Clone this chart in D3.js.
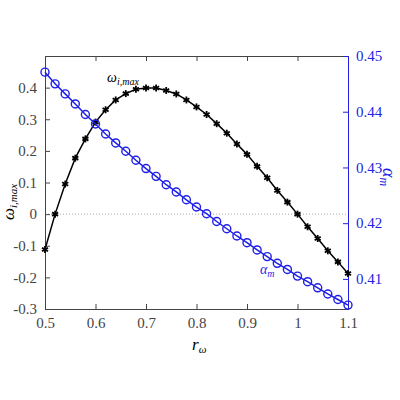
<!DOCTYPE html><html><head><meta charset="utf-8"><script src="https://cdn.jsdelivr.net/npm/d3@7"></script>
<style>body{margin:0;background:#fff}svg text{font-family:"Liberation Serif",serif !important}</style></head><body><svg id="c" width="400" height="400"></svg><script>
const rw=[0.5,0.52,0.54,0.56,0.58,0.6,0.62,0.64,0.66,0.68,0.7,0.72,0.74,0.76,0.78,0.8,0.82,0.84,0.86,0.88,0.9,0.92,0.94,0.96,0.98,1.0,1.02,1.04,1.06,1.08,1.1];
const omega=[-0.112,0,0.095,0.177,0.238,0.291,0.330,0.361,0.381,0.395,0.399,0.399,0.391,0.380,0.361,0.339,0.315,0.286,0.256,0.222,0.189,0.151,0.115,0.075,0.038,0,-0.040,-0.077,-0.116,-0.151,-0.188];
const alpha=[0.4471,0.4450,0.4432,0.4414,0.4395,0.4378,0.4360,0.4344,0.4329,0.4313,0.4298,0.4284,0.4269,0.4256,0.4242,0.4229,0.4217,0.4203,0.4190,0.4177,0.4165,0.4152,0.4140,0.4128,0.4117,0.4105,0.4095,0.4084,0.4073,0.4063,0.4053];
const xTicks=[0.5,0.6,0.7,0.8,0.9,1,1.1],yTicks=[-0.3,-0.2,-0.1,0,0.1,0.2,0.3,0.4],y2Ticks=[0.41,0.42,0.43,0.44,0.45];
const L=45,R=348,T=56,B=309,blue="#1f1fe6";
const svg=d3.select("#c");
const x=d3.scaleLinear([0.5,1.1],[L,R]),y=d3.scaleLinear([-0.3,0.5],[B,T]),y2=d3.scaleLinear([0.4046,0.45],[B,T]);
svg.append("line").attr("x1",L).attr("x2",R).attr("y1",y(0)).attr("y2",y(0)).attr("stroke","#aaa").attr("stroke-dasharray","1,2");
function ax(g,col){g.attr("font-family","Liberation Serif");g.selectAll("path").attr("stroke",col);g.selectAll("line").attr("stroke",col);g.selectAll("text").attr("fill",col).style("font-size","15px");}
svg.append("g").attr("transform",`translate(0,${B})`).call(d3.axisBottom(x).tickValues(xTicks).tickSizeInner(-5).tickSizeOuter(0).tickPadding(8).tickFormat(d=>String(d))).call(g=>ax(g,"#444"));
svg.append("g").attr("transform",`translate(0,${T})`).call(d3.axisTop(x).tickValues(xTicks).tickSizeInner(-5).tickSizeOuter(0).tickFormat("")).call(g=>ax(g,"#444"));
svg.append("g").attr("transform",`translate(${L},0)`).call(d3.axisLeft(y).tickValues(yTicks).tickSizeInner(-5).tickSizeOuter(0).tickPadding(8).tickFormat(d=>String(d))).call(g=>ax(g,"#444"));
svg.append("g").attr("transform",`translate(${R},0)`).call(d3.axisRight(y2).tickValues(y2Ticks).tickSizeInner(-5).tickSizeOuter(0).tickPadding(8).tickFormat(d=>String(d))).call(g=>ax(g,blue));
const lw=d3.line().x((d,i)=>x(rw[i])).y(d=>y(d));
svg.append("path").attr("d",lw(omega)).attr("fill","none").attr("stroke","#000").attr("stroke-width",1.5);
omega.forEach((d,i)=>{const g=svg.append("g").attr("transform",`translate(${x(rw[i])},${y(d)})`);
 [0,60,120].forEach(a=>g.append("line").attr("x1",-3.5).attr("x2",3.5).attr("transform",`rotate(${a+90})`).attr("stroke","#000").attr("stroke-width",1.8));});
const la=d3.line().x((d,i)=>x(rw[i])).y(d=>y2(d));
svg.append("path").attr("d",la(alpha)).attr("fill","none").attr("stroke",blue).attr("stroke-width",1.5);
svg.selectAll(".ca").data(alpha).join("circle").attr("cx",(d,i)=>x(rw[i])).attr("cy",d=>y2(d)).attr("r",4).attr("fill","none").attr("stroke",blue).attr("stroke-width",1.4);
svg.append("text").attr("x",107).attr("y",82).style("font-size","14px").style("font-style","italic").html('ω<tspan font-size="10" dy="3">i,max</tspan>');
svg.append("text").attr("x",260).attr("y",274).attr("fill",blue).style("font-size","14px").style("font-style","italic").html('α<tspan font-size="10" dy="3">m</tspan>');
svg.append("text").attr("x",192).attr("y",350).style("font-size","17px").style("font-style","italic").html('r<tspan font-size="11" dy="3">ω</tspan>');
svg.append("text").attr("transform","translate(14,220) rotate(-90)").style("font-size","17px").style("font-style","italic").html('ω<tspan font-size="11" dy="3">i,max</tspan>');
svg.append("text").attr("transform","translate(383,168) rotate(90)").attr("fill",blue).style("font-size","18px").style("font-style","italic").html('α<tspan font-size="12" dy="3">m</tspan>');
</script></body></html>
